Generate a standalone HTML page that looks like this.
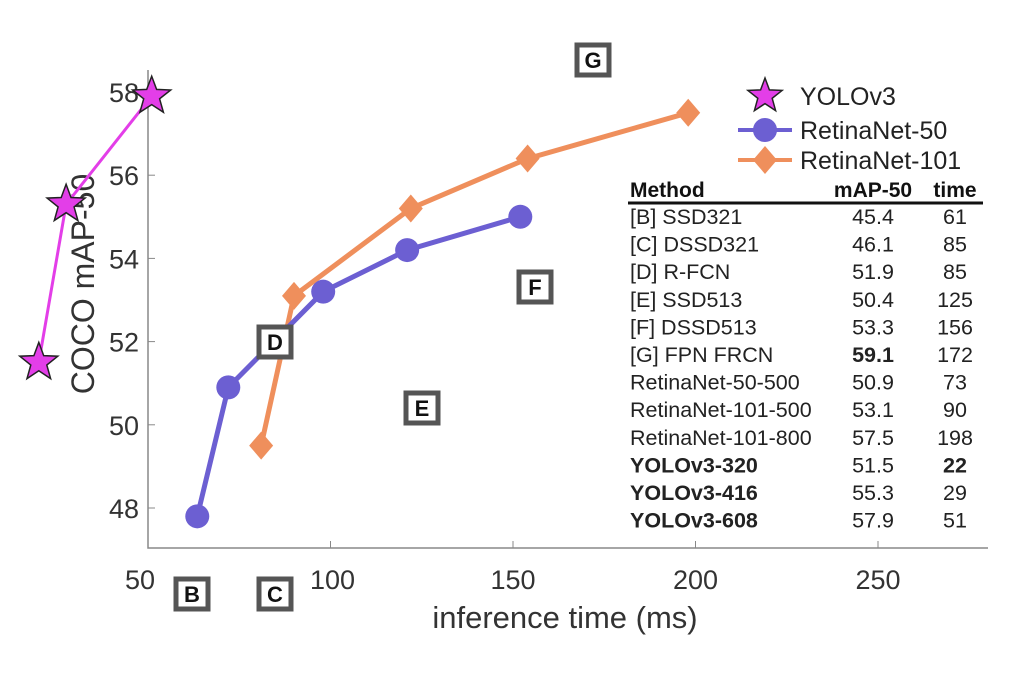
<!DOCTYPE html>
<html><head><meta charset="utf-8"><style>
body{margin:0;background:#fff;}
svg{display:block;font-family:"Liberation Sans",sans-serif;}
</style></head><body>
<svg id="chart" width="1010" height="688" viewBox="0 0 1010 688" xmlns="http://www.w3.org/2000/svg">
<rect width="1010" height="688" fill="#fff"/>
<g id="axes"></g>
<g id="series"></g>
<g id="boxes"></g>
<g id="legend"></g>
<g id="table"></g>
</svg>
<script>
const xTicks=[50,100,150,200,250];
const yTicks=[48,50,52,54,56,58];
const yoloT=[22,29,51];
const yoloMAP=[51.5,55.3,57.9];
const r50T=[63.5,72,98,121,152];
const r50MAP=[47.8,50.9,53.2,54.2,55.0];
const r101T=[81,90,122,154,198];
const r101MAP=[49.5,53.1,55.2,56.4,57.5];
const boxLetters=['B','C','D','E','F','G'];
const boxT=[62,85,85,125,156,172];
const boxMAP=[45.4,46.1,51.9,50.4,53.3,59.1];
const tMethods=['[B] SSD321','[C] DSSD321','[D] R-FCN','[E] SSD513','[F] DSSD513','[G] FPN FRCN','RetinaNet-50-500','RetinaNet-101-500','RetinaNet-101-800','YOLOv3-320','YOLOv3-416','YOLOv3-608'];
const tMAP=['45.4','46.1','51.9','50.4','53.3','59.1','50.9','53.1','57.5','51.5','55.3','57.9'];
const tTime=['61','85','85','125','156','172','73','90','198','22','29','51'];

const NS='http://www.w3.org/2000/svg';
const X=v=>148+(v-50)*3.65;
const Y=v=>508-(v-48)*41.6;
function mk(p,tag,a,txt){const e=document.createElementNS(NS,tag);for(const k in a)e.setAttribute(k,a[k]);if(txt!==undefined)e.textContent=txt;p.appendChild(e);return e;}
const ax=document.getElementById('axes');
let e=mk(ax,'path',{d:'M148 70 V548 H988',fill:'none',stroke:'#888','stroke-width':1.5});

xTicks.forEach(t=>{
 mk(ax,'line',{x1:X(t),x2:X(t),y1:548,y2:541,stroke:'#888'});
 e=mk(ax,'text',{x:X(t)-(t===50?8:(t===100?-2:0)),y:589,'text-anchor':'middle','font-size':27,fill:'#333'},t);
 
});
yTicks.forEach(t=>{
 mk(ax,'line',{x1:148,x2:155,y1:Y(t),y2:Y(t),stroke:'#888'});
 e=mk(ax,'text',{x:139,y:Y(t)+10,'text-anchor':'end','font-size':27,fill:'#333'},t);
 
});
e=mk(ax,'text',{x:565,y:628,'text-anchor':'middle','font-size':31,fill:'#333'},'inference time (ms)');

e=mk(ax,'text',{x:0,y:0,'text-anchor':'middle','font-size':32,fill:'#333',transform:'translate(94 284) rotate(-90)'},'COCO mAP-50');


function star(cx,cy,R){let p=[];for(let i=0;i<10;i++){const r=i%2?R*0.42:R;const a=-Math.PI/2+i*Math.PI/5;p.push((cx+r*Math.cos(a)).toFixed(1)+','+(cy+r*Math.sin(a)).toFixed(1));}return p.join(' ');}
const sg=document.getElementById('series');
const XY=t=>t<50?X(t)-(50-t)*0.25:X(t);
function line(ts,ms,col,name){e=mk(sg,'polyline',{points:ts.map((t,i)=>XY(t)+','+Y(ms[i])).join(' '),fill:'none',stroke:col,'stroke-width':name==='yolov3'?3:5});
 }
line(r101T,r101MAP,'#ef8f5c','retinanet-101');
line(r50T,r50MAP,'#6c5fd2','retinanet-50');
line(yoloT,yoloMAP,'#e33ee8','yolov3');
r101T.forEach((t,i)=>{const x=X(t),y=Y(r101MAP[i]);e=mk(sg,'polygon',{points:`${x},${y-14} ${x+12},${y} ${x},${y+14} ${x-12},${y}`,fill:'#ef8f5c'});
 });
r50T.forEach((t,i)=>{e=mk(sg,'circle',{cx:X(t),cy:Y(r50MAP[i]),r:12,fill:'#6c5fd2'});
 });
yoloT.forEach((t,i)=>{e=mk(sg,'polygon',{points:star(XY(t),Y(yoloMAP[i]),20),fill:'#e33ee8',stroke:'#222','stroke-width':1.5});
 });

const bg=document.getElementById('boxes');
const boxPos=[[192,594],[275,594],[275,342],[422,408],[535,287],[593,60]];
boxLetters.forEach((L,i)=>{const [cx,cy]=boxPos[i];
 const g=mk(bg,'g',{});
 mk(g,'rect',{x:cx-16,y:cy-15,width:32,height:30,fill:'#fff',stroke:'#555','stroke-width':5});
 mk(g,'text',{x:cx,y:cy+8,'text-anchor':'middle','font-size':22,'font-weight':'bold',fill:'#111'},L);
});

const lg=document.getElementById('legend');
const legItems=[['YOLOv3',96],['RetinaNet-50',130],['RetinaNet-101',160]];
legItems.forEach(([lab,y],i)=>{const g=mk(lg,'g',{});
 if(i===0){mk(g,'polygon',{points:star(765,y,18),fill:'#e33ee8',stroke:'#222','stroke-width':1.5});}
 if(i===1){mk(g,'line',{x1:738,x2:792,y1:y,y2:y,stroke:'#6c5fd2','stroke-width':4});mk(g,'circle',{cx:765,cy:y,r:12,fill:'#6c5fd2'});}
 if(i===2){mk(g,'line',{x1:738,x2:792,y1:y,y2:y,stroke:'#ef8f5c','stroke-width':4});mk(g,'polygon',{points:`765,${y-14} 777,${y} 765,${y+14} 753,${y}`,fill:'#ef8f5c'});}
 mk(g,'text',{x:800,y:y+9,'font-size':25,fill:'#222'},lab);
});

const tg=document.getElementById('table');
[['Method',630,'start'],['mAP-50',873,'middle'],['time',955,'middle']].forEach(([h,x,a])=>{
 e=mk(tg,'text',{x:x,y:197,'text-anchor':a,'font-size':21,'font-weight':'bold',fill:'#111'},h);
 });
mk(tg,'line',{x1:628,x2:983,y1:203,y2:203,stroke:'#111','stroke-width':3});
tMethods.forEach((m,i)=>{const y=224+i*27.6;const yb=i>=9;
 const g=mk(tg,'g',{});
 mk(g,'text',{x:630,y:y,'font-size':21.5,'font-weight':yb?'bold':'normal',fill:'#222'},m);
 mk(g,'text',{x:873,y:y,'text-anchor':'middle','font-size':21.5,'font-weight':i===5?'bold':'normal',fill:'#222'},tMAP[i]);
 mk(g,'text',{x:955,y:y,'text-anchor':'middle','font-size':21.5,'font-weight':i===9?'bold':'normal',fill:'#222'},tTime[i]);
});
</script>
</body></html>
